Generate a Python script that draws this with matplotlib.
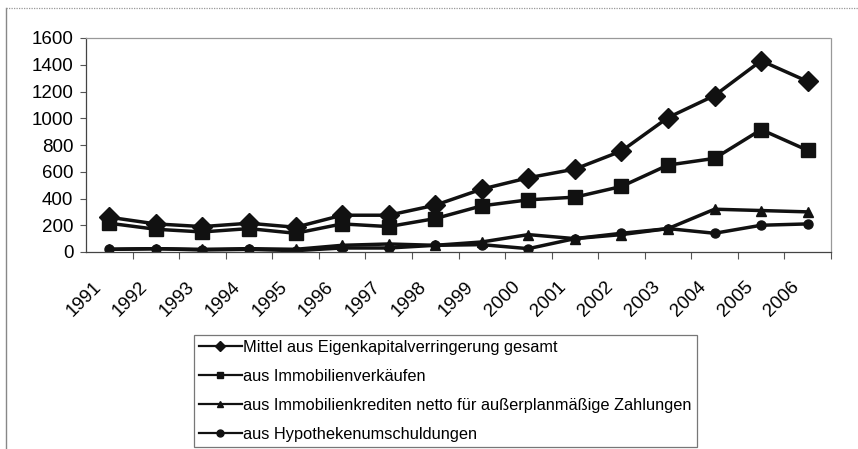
import matplotlib.pyplot as plt
import matplotlib.transforms as mtrans
from matplotlib.lines import Line2D

plt.rcParams['font.family'] = ['Liberation Sans', 'DejaVu Sans']

years = ['1991', '1992', '1993', '1994', '1995', '1996', '1997', '1998',
         '1999', '2000', '2001', '2002', '2003', '2004', '2005', '2006']
gesamt = [260, 210, 190, 215, 185, 275, 275, 350, 470, 555, 620, 755, 1005, 1170, 1430, 1275]
verkaeufe = [215, 170, 150, 175, 140, 210, 190, 250, 345, 390, 410, 490, 650, 700, 915, 760]
kredite = [20, 25, 20, 25, 20, 50, 60, 50, 75, 130, 100, 130, 175, 320, 310, 300]
umschuldung = [20, 25, 15, 20, 10, 30, 30, 50, 55, 25, 100, 140, 175, 140, 200, 210]

labels = ['Mittel aus Eigenkapitalverringerung gesamt',
          'aus Immobilienverkäufen',
          'aus Immobilienkrediten netto für außerplanmäßige Zahlungen',
          'aus Hypothekenumschuldungen']

fig = plt.figure(figsize=(8.58, 4.49), dpi=100)
ax = fig.add_axes([86 / 858, 1 - 252 / 449, (831 - 86) / 858, (252 - 38) / 449])

x = range(len(years))
series = [(gesamt, 'D', 10), (verkaeufe, 's', 9.5), (kredite, '^', 7), (umschuldung, 'o', 6.5)]
handles = []
for vals, mk, ms in series:
    ax.plot(x, vals, color='#111111', lw=2.5, marker=mk, ms=ms,
            markerfacecolor='#111111', markeredgecolor='#111111')
    handles.append(Line2D([], [], color='#111111', lw=1.6, marker=mk, ms=5))

ax.set_xlim(-0.5, len(years) - 0.5)
ax.set_ylim(0, 1600)
ax.set_yticks(range(0, 1601, 200))
ax.tick_params(axis='y', labelsize=13.5, length=4, width=0.8, color='#555555', pad=5)

# category labels, tick marks between categories
ax.set_xticks(list(x))
ax.set_xticklabels(years, rotation=45, ha='right', rotation_mode='anchor', fontsize=13.5)
ax.tick_params(axis='x', which='major', length=0, pad=19)
shift = mtrans.ScaledTranslation(-0.17, 0, fig.dpi_scale_trans)
for lab in ax.get_xticklabels():
    lab.set_transform(lab.get_transform() + shift)
ax.set_xticks([i + 0.5 for i in x], minor=True)
ax.tick_params(axis='x', which='minor', length=5, width=0.8, color='#555555')

for side in ('left', 'bottom'):
    ax.spines[side].set_color('#444444')
    ax.spines[side].set_linewidth(0.9)
for side in ('top', 'right'):
    ax.spines[side].set_color('#999999')
    ax.spines[side].set_linestyle((0, (1, 1)))
    ax.spines[side].set_linewidth(0.9)

# outer chart frame
fig.add_artist(Line2D([6 / 858, 6 / 858], [0, 1 - 8 / 449], transform=fig.transFigure,
                      color='#888888', lw=1.0))
fig.add_artist(Line2D([6 / 858, 1], [1 - 8 / 449, 1 - 8 / 449], transform=fig.transFigure,
                      color='#999999', lw=0.9, ls=(0, (1, 1))))

leg = fig.legend(handles, labels, loc='upper left', bbox_to_anchor=(194 / 858, 1 - 335 / 449),
                 fontsize=11.8, frameon=True, fancybox=False, handlelength=2.6,
                 handletextpad=0.1, labelspacing=0.85, borderpad=0.3, borderaxespad=0)
leg.get_frame().set_edgecolor('#555555')
leg.get_frame().set_linewidth(0.9)

fig.savefig('out.png', dpi=100)
